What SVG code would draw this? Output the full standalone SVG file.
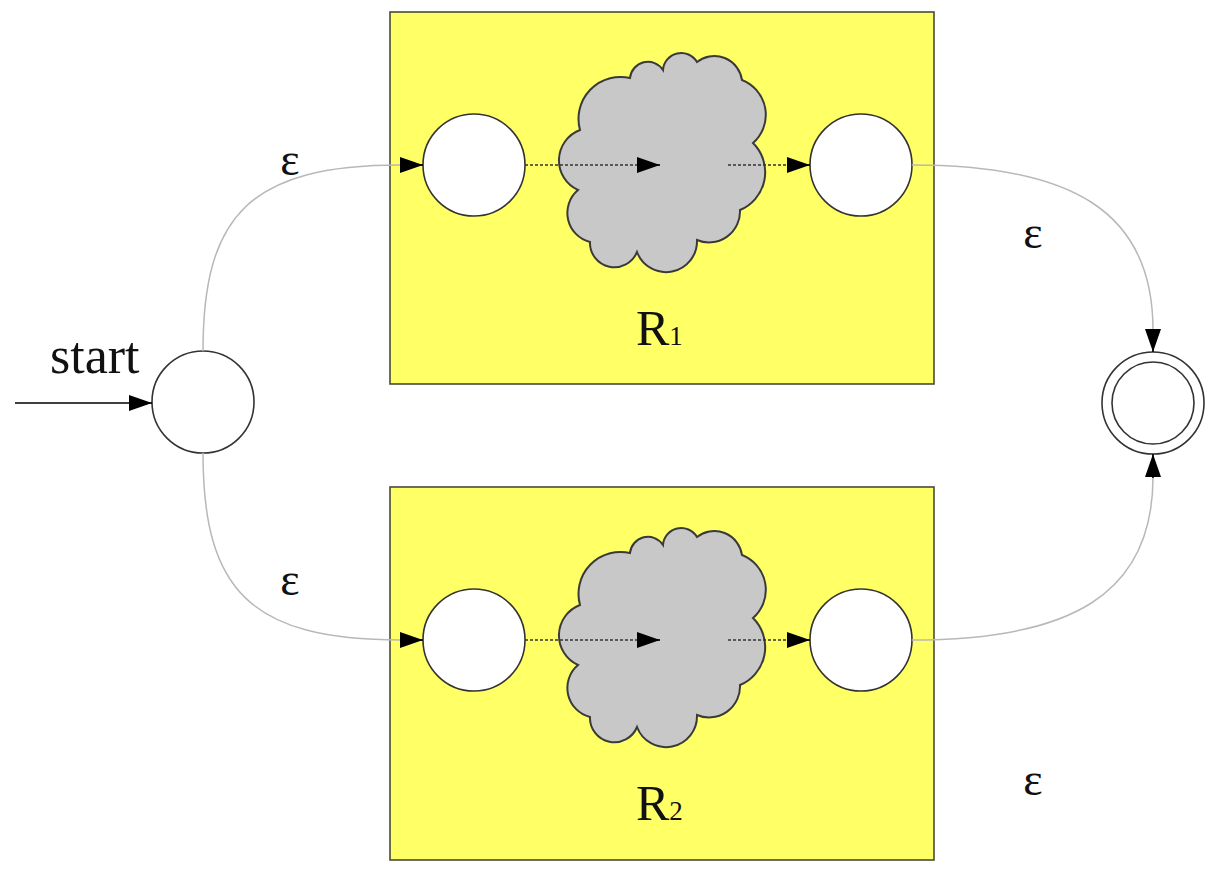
<svg xmlns="http://www.w3.org/2000/svg" xmlns:xlink="http://www.w3.org/1999/xlink" width="1230" height="875" viewBox="0 0 1230 875">
<style>
.box{fill:#ffff66;stroke:#4a4a3a;stroke-width:1.6}
.state{fill:#ffffff;stroke:#333;stroke-width:1.6}
.cloud{fill:#c8c8c8;stroke:#3a3a3a;stroke-width:2}
.eps{stroke:#b8b8b8;stroke-width:1.5;fill:none}
.dot{stroke:#333;stroke-width:1.6;stroke-dasharray:3 2;fill:none}
.solid{stroke:#000;stroke-width:1.6;fill:none}
.lbl{font-family:"Liberation Serif","Times New Roman",serif;fill:#111}
</style>
<defs>
<marker id="ah" markerUnits="userSpaceOnUse" markerWidth="24" markerHeight="16" refX="23" refY="8" orient="auto">
<path d="M0,0 L23,8 L0,16 z" fill="#000"/>
</marker>
<path id="cloudShape" class="cloud" d="M580,130 A42,42 0 0 1 630,78 A18,18 0 0 1 663,70 A18.3,18.3 0 0 1 697,62 A28,28 0 0 1 742,80 A37.4,37.4 0 0 1 753,143 A41,41 0 0 1 740,210 A31,31 0 0 1 697,240 A31,31 0 0 1 637,252 A24.4,24.4 0 0 1 590,242 A30,30 0 0 1 578,190 A32.5,32.5 0 0 1 580,130 Z"/>
</defs>

<g id="boxR1">
<rect class="box" x="390" y="12" width="544" height="372"/>
<use xlink:href="#cloudShape" href="#cloudShape"/>
<text class="lbl" x="636" y="345" font-size="50">R<tspan font-size="27">1</tspan></text>
</g>
<g id="boxR2">
<rect class="box" x="390" y="487" width="544" height="373"/>
<use xlink:href="#cloudShape" href="#cloudShape" transform="translate(0,475)"/>
<text class="lbl" x="636" y="820" font-size="50">R<tspan font-size="27">2</tspan></text>
</g>

<g id="q1"><circle class="state" cx="474" cy="165" r="51"/></g>
<g id="f1"><circle class="state" cx="861" cy="165" r="51"/></g>
<g id="q2"><circle class="state" cx="474" cy="640" r="51"/></g>
<g id="f2"><circle class="state" cx="861" cy="640" r="51"/></g>
<g id="start"><circle class="state" cx="203" cy="402" r="51"/></g>
<g id="final">
<circle class="state" cx="1153" cy="403" r="51"/>
<circle class="state" cx="1153" cy="403" r="41"/>
</g>

<g id="connectors">
<path class="solid" d="M15,403 L152,403" marker-end="url(#ah)"/>
<path class="eps" d="M203,351 C203,215 250,165 401,165"/>
<path class="solid" d="M400,165 L423,165" marker-end="url(#ah)"/>
<path class="eps" d="M203,453 C203,590 250,640 401,640"/>
<path class="solid" d="M400,640 L423,640" marker-end="url(#ah)"/>
<path class="eps" d="M912,165 C1070,165 1153,210 1153,330"/>
<path class="solid" d="M1153,329 L1153,352" marker-end="url(#ah)"/>
<path class="eps" d="M912,640 C1070,640 1153,595 1153,477"/>
<path class="solid" d="M1153,478 L1153,454" marker-end="url(#ah)"/>
<path class="dot" d="M525,165 L640,165"/>
<path class="solid" d="M637,165 L660,165" marker-end="url(#ah)"/>
<path class="dot" d="M728,165 L789,165"/>
<path class="solid" d="M787,165 L810,165" marker-end="url(#ah)"/>
<path class="dot" d="M525,640 L640,640"/>
<path class="solid" d="M637,640 L660,640" marker-end="url(#ah)"/>
<path class="dot" d="M728,640 L789,640"/>
<path class="solid" d="M787,640 L810,640" marker-end="url(#ah)"/>
</g>

<g id="labels">
<text class="lbl" x="50" y="373" font-size="52">start</text>
<text class="lbl" x="290" y="175" font-size="46" text-anchor="middle">ε</text>
<text class="lbl" x="1033" y="248" font-size="46" text-anchor="middle">ε</text>
<text class="lbl" x="290" y="595" font-size="46" text-anchor="middle">ε</text>
<text class="lbl" x="1033" y="795" font-size="46" text-anchor="middle">ε</text>
</g>
</svg>
